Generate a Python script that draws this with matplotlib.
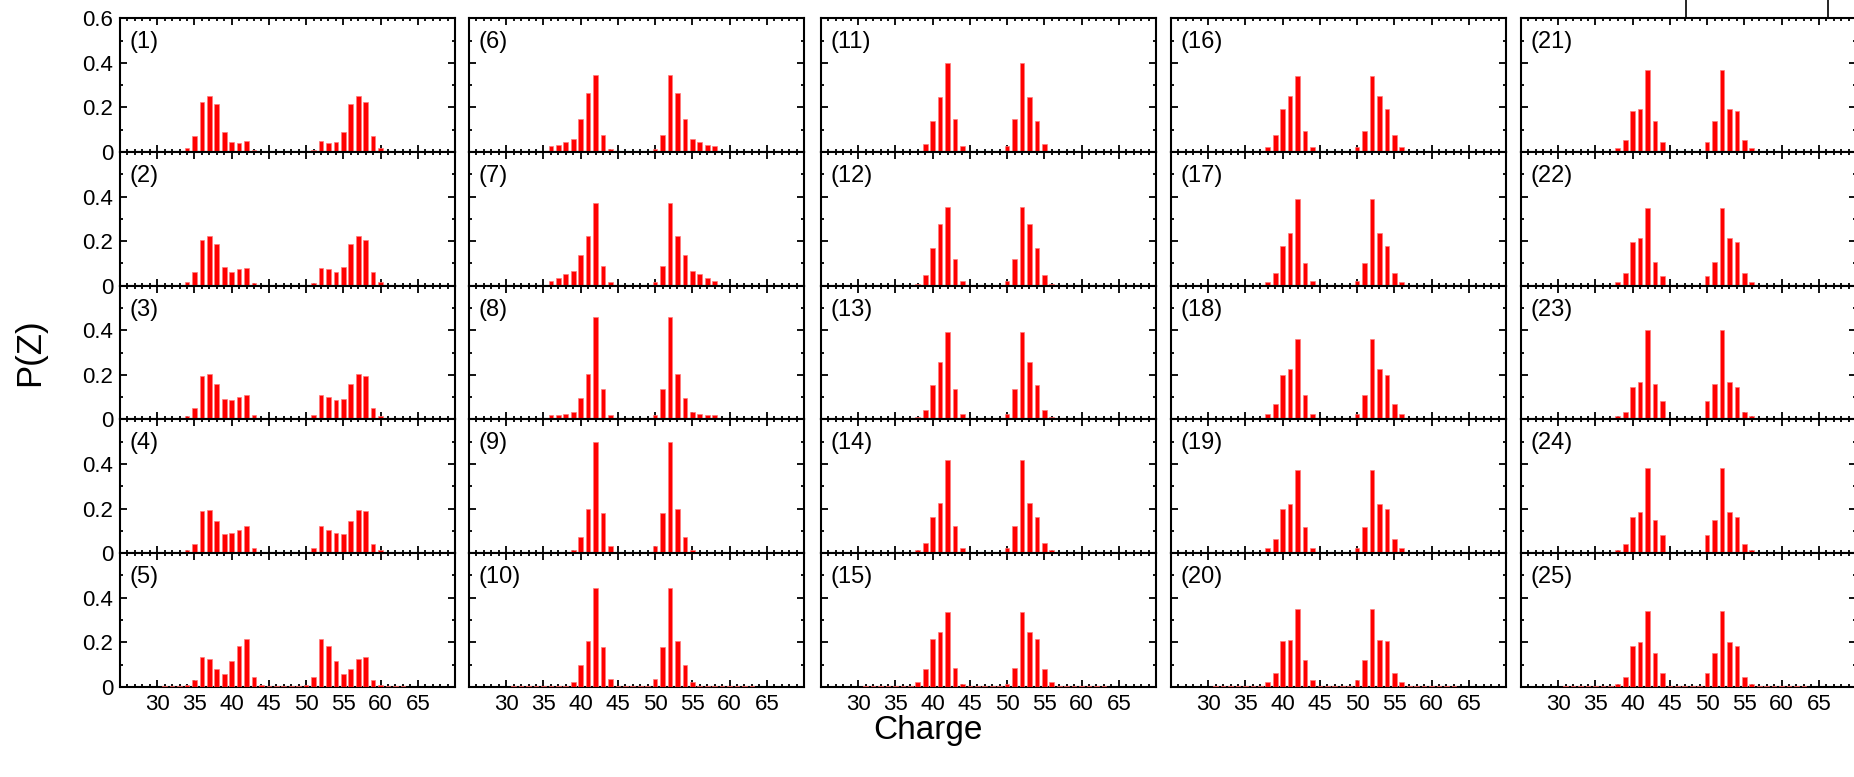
import matplotlib.pyplot as plt
from matplotlib.lines import Line2D
from matplotlib.ticker import MultipleLocator, FixedLocator

plt.rcParams['font.family'] = ['Liberation Sans', 'DejaVu Sans']

# charge values Z = 31 ... 63
charge = list(range(31, 64))

p01 = [.003, .003, .003, .018, .070, .225, .250, .216, .088, .045, .042, .048, .008, .003, .003, .003, .003,
       .003, .003, .003, .008, .048, .042, .045, .088, .216, .250, .225, .070, .018, .003, .003, .003]
p02 = [.003, .003, .003, .016, .060, .205, .222, .188, .085, .063, .075, .080, .013, .003, .003, .003, .003,
       .003, .003, .003, .013, .080, .075, .063, .085, .188, .222, .205, .060, .016, .003, .003, .003]
p03 = [.003, .003, .003, .016, .050, .197, .202, .160, .090, .085, .100, .108, .018, .004, .003, .003, .003,
       .003, .003, .004, .018, .108, .100, .085, .090, .160, .202, .197, .050, .016, .003, .003, .003]
p04 = [.003, .003, .003, .012, .043, .190, .192, .146, .085, .090, .104, .120, .021, .004, .003, .003, .003,
       .003, .003, .004, .021, .120, .104, .090, .085, .146, .192, .190, .043, .012, .003, .003, .003]
p05 = [.003, .003, .004, .010, .030, .135, .125, .080, .056, .117, .185, .213, .043, .010, .003, .003, .003,
       .003, .003, .010, .043, .213, .185, .117, .056, .080, .125, .135, .030, .010, .004, .003, .003]

p06 = [.003, .003, .003, .003, .005, .025, .033, .043, .058, .148, .263, .346, .075, .015, .003, .003, .003,
       .003, .003, .015, .075, .346, .263, .148, .058, .043, .033, .025, .005, .003, .003, .003, .003]
p07 = [.003, .003, .003, .003, .005, .020, .036, .054, .067, .136, .224, .372, .088, .018, .003, .003, .003,
       .003, .003, .018, .088, .372, .224, .136, .067, .054, .036, .020, .005, .003, .003, .003, .003]
p08 = [.003, .003, .003, .003, .004, .018, .020, .022, .033, .097, .204, .461, .137, .020, .004, .003, .003,
       .003, .004, .020, .137, .461, .204, .097, .033, .022, .020, .018, .004, .003, .003, .003, .003]
p09 = [.003, .003, .003, .003, .003, .003, .003, .005, .015, .073, .196, .500, .178, .031, .004, .003, .003,
       .003, .004, .031, .178, .500, .196, .073, .015, .005, .003, .003, .003, .003, .003, .003, .003]
p10 = [.003, .003, .003, .003, .003, .003, .003, .004, .021, .097, .204, .442, .178, .037, .004, .003, .003,
       .003, .004, .037, .178, .442, .204, .097, .021, .004, .003, .003, .003, .003, .003, .003, .003]

p11 = [.003, .003, .003, .003, .003, .003, .003, .003, .035, .139, .245, .400, .150, .027, .003, .003, .003,
       .003, .003, .027, .150, .400, .245, .139, .035, .003, .003, .003, .003, .003, .003, .003, .003]
p12 = [.003, .003, .003, .003, .003, .003, .003, .008, .047, .168, .278, .352, .121, .022, .003, .003, .003,
       .003, .003, .022, .121, .352, .278, .168, .047, .008, .003, .003, .003, .003, .003, .003, .003]
p13 = [.003, .003, .003, .003, .003, .003, .003, .012, .041, .153, .256, .393, .135, .025, .003, .003, .003,
       .003, .003, .025, .135, .393, .256, .153, .041, .012, .003, .003, .003, .003, .003, .003, .003]
p14 = [.003, .003, .003, .003, .003, .003, .003, .016, .047, .162, .227, .420, .123, .025, .003, .003, .003,
       .003, .003, .025, .123, .420, .227, .162, .047, .016, .003, .003, .003, .003, .003, .003, .003]
p15 = [.003, .003, .003, .003, .003, .003, .004, .023, .080, .215, .247, .337, .086, .014, .003, .003, .003,
       .003, .003, .014, .086, .337, .247, .215, .080, .023, .004, .003, .003, .003, .003, .003, .003]

p16 = [.003, .003, .003, .003, .003, .003, .003, .022, .078, .194, .250, .342, .092, .023, .003, .003, .003,
       .003, .003, .023, .092, .342, .250, .194, .078, .022, .003, .003, .003, .003, .003, .003, .003]
p17 = [.003, .003, .003, .003, .003, .003, .003, .016, .059, .176, .235, .391, .104, .022, .003, .003, .003,
       .003, .003, .022, .104, .391, .235, .176, .059, .016, .003, .003, .003, .003, .003, .003, .003]
p18 = [.003, .003, .003, .003, .003, .003, .003, .022, .068, .200, .225, .360, .108, .022, .003, .003, .003,
       .003, .003, .022, .108, .360, .225, .200, .068, .022, .003, .003, .003, .003, .003, .003, .003]
p19 = [.003, .003, .003, .003, .003, .003, .003, .022, .065, .196, .221, .374, .115, .023, .003, .003, .003,
       .003, .003, .023, .115, .374, .221, .196, .065, .022, .003, .003, .003, .003, .003, .003, .003]
p20 = [.003, .003, .003, .003, .003, .003, .003, .022, .063, .204, .210, .348, .119, .031, .003, .003, .003,
       .003, .003, .031, .119, .348, .210, .204, .063, .022, .003, .003, .003, .003, .003, .003, .003]

p21 = [.003, .003, .003, .003, .003, .003, .003, .016, .053, .184, .192, .366, .141, .045, .004, .003, .003,
       .003, .004, .045, .141, .366, .192, .184, .053, .016, .003, .003, .003, .003, .003, .003, .003]
p22 = [.003, .003, .003, .003, .003, .003, .003, .018, .059, .198, .215, .350, .108, .045, .003, .003, .003,
       .003, .003, .045, .108, .350, .215, .198, .059, .018, .003, .003, .003, .003, .003, .003, .003]
p23 = [.003, .003, .003, .003, .003, .003, .003, .016, .035, .145, .168, .403, .157, .084, .004, .003, .003,
       .003, .004, .084, .157, .403, .168, .145, .035, .016, .003, .003, .003, .003, .003, .003, .003]
p24 = [.003, .003, .003, .003, .003, .003, .003, .016, .041, .164, .186, .382, .147, .080, .003, .003, .003,
       .003, .003, .080, .147, .382, .186, .164, .041, .016, .003, .003, .003, .003, .003, .003, .003]
p25 = [.003, .003, .003, .003, .003, .003, .003, .014, .045, .182, .200, .342, .153, .063, .005, .003, .003,
       .003, .005, .063, .153, .342, .200, .182, .045, .014, .003, .003, .003, .003, .003, .003, .003]

panels = [p01, p02, p03, p04, p05, p06, p07, p08, p09, p10,
          p11, p12, p13, p14, p15, p16, p17, p18, p19, p20,
          p21, p22, p23, p24, p25]

x_ticks = [30, 35, 40, 45, 50, 55, 60, 65]
y_ticks = [0, 0.2, 0.4, 0.6]
y_labels_top = ['0', '0.2', '0.4', '0.6']
y_labels_rest = ['0', '0.2', '0.4', '']

# layout in pixels of the target image
W, H = 1854, 777
col_left = [120, 469, 821, 1171, 1521]
ax_w = 335
top = 18.3
row_h = 133.7

fig = plt.figure(figsize=(W / 100, H / 100), dpi=100)

for col in range(5):
    for row in range(5):
        k = col * 5 + row
        ax = fig.add_axes([col_left[col] / W, 1 - (top + (row + 1) * row_h) / H, ax_w / W, row_h / H])
        ax.bar(charge, panels[k], width=0.62, color='#ff0000', edgecolor='#ff7a7a',
               linewidth=0.5, zorder=3)
        ax.set_xlim(25, 70)
        ax.set_ylim(0, 0.6)

        ax.xaxis.set_major_locator(FixedLocator(x_ticks))
        ax.xaxis.set_minor_locator(MultipleLocator(1))
        ax.yaxis.set_major_locator(FixedLocator(y_ticks))
        ax.yaxis.set_minor_locator(MultipleLocator(0.1))
        ax.tick_params(which='both', direction='in', top=True, right=True, width=1.3, labelsize=16)
        ax.tick_params(which='major', length=5)
        ax.tick_params(which='minor', length=2.4)
        ax.tick_params(axis='x', pad=5)
        ax.tick_params(axis='y', pad=5)

        if col == 0:
            ax.set_yticklabels(y_labels_top if row == 0 else y_labels_rest)
        else:
            ax.set_yticklabels([])
        if row == 4:
            ax.set_xticklabels([str(t) for t in x_ticks])
        else:
            ax.set_xticklabels([])

        for s in ax.spines.values():
            s.set_linewidth(1.5)

        ax.text(0.028, 0.82, '(%d)' % (k + 1), transform=ax.transAxes,
                fontsize=17, ha='left', va='center')

# bits of a box above the last column
for xp in [1686, 1828]:
    fig.add_artist(Line2D([xp / W, xp / W], [1 - top / H, 1.0], transform=fig.transFigure,
                          color='black', linewidth=1.2))

fig.text(30 / W, 1 - 352 / H, 'P(Z)', rotation=90, ha='center', va='center', fontsize=25)
fig.text(928 / W, 1 - 730 / H, 'Charge', ha='center', va='center', fontsize=24)

fig.savefig('out.png', dpi=100)
